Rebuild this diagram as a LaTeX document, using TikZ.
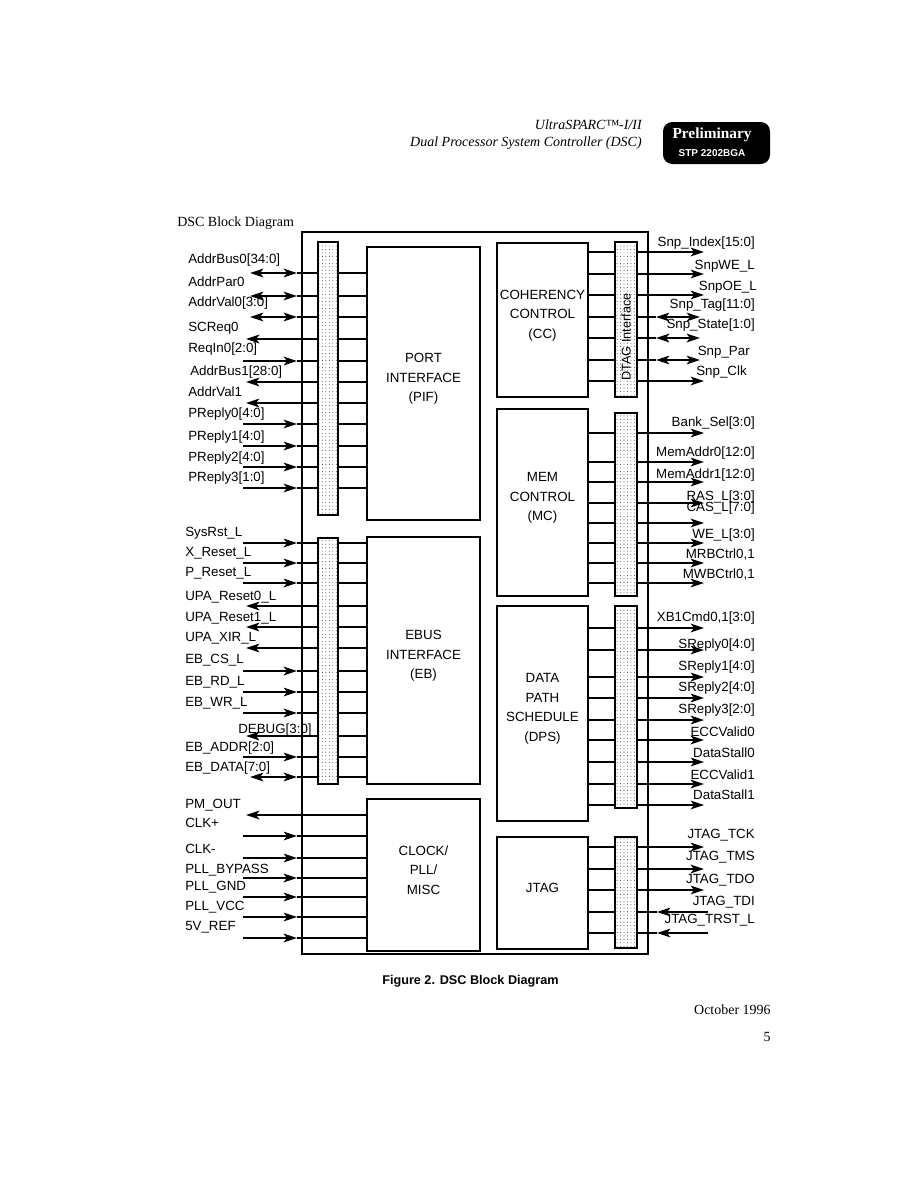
\documentclass[tikz,border=0pt]{standalone}
\usepackage{fontspec}
\setmainfont{Liberation Serif}
\setsansfont{Liberation Sans}
\usetikzlibrary{arrows.meta,patterns,fit}
\pgfdeclarepatternformonly{sdots}{\pgfqpoint{-1pt}{-1pt}}{\pgfqpoint{1pt}{1pt}}{\pgfqpoint{2.6pt}{2.6pt}}{\pgfpathcircle{\pgfqpoint{0pt}{0pt}}{0.35pt}\pgfusepath{fill}}
% left signals: [style]{y}{label y}{label x}{text}{strip}{box}
\newcommand\Lin[7][]{%
  \coordinate (le#2) at (243,#2);
  \draw[sig,#1,->] (le#2) -- (297,#2);
  \draw[sig,#1] (297,#2) -- (#6.west |- le#2);
  \draw[sig,#1] (#6.east |- le#2) -- (#7.west |- le#2);
  \node[lab,anchor=west] at (#4,#3) {#5};}
\newcommand\Lout[7][]{%
  \coordinate (le#2) at (246,#2);
  \draw[sig,#1,->] (#6.west |- le#2) -- (le#2);
  \draw[sig,#1] (#6.east |- le#2) -- (#7.west |- le#2);
  \node[lab,anchor=west] at (#4,#3) {#5};}
\newcommand\Lbi[7][]{%
  \coordinate (le#2) at (250,#2);
  \draw[sig,#1,<->] (le#2) -- (297,#2);
  \draw[sig,#1] (297,#2) -- (#6.west |- le#2);
  \draw[sig,#1] (#6.east |- le#2) -- (#7.west |- le#2);
  \node[lab,anchor=west] at (#4,#3) {#5};}
% clock signals: [style]{y}{label y}{text}
\newcommand\Cin[4][]{%
  \coordinate (ce#2) at (243,#2);
  \draw[sig,#1,->] (ce#2) -- (297,#2);
  \draw[sig,#1] (297,#2) -- (clk.west |- ce#2);
  \node[lab,anchor=west] at (185,#3) {#4};}
\newcommand\Cout[4][]{%
  \coordinate (ce#2) at (246,#2);
  \draw[sig,#1,->] (clk.west |- ce#2) -- (ce#2);
  \node[lab,anchor=west] at (185,#3) {#4};}
% right signals: [style]{y}{label y}{label right x}{text}{strip}{box}
\newcommand\Rout[7][]{%
  \coordinate (re#2) at (704,#2);
  \draw[sig,#1] (#7.east |- re#2) -- (#6.west |- re#2);
  \draw[sig,#1,->] (#6.east |- re#2) -- (re#2);
  \node[lab,anchor=east] at (#4,#3) {#5};}
\newcommand\Rin[7][]{%
  \coordinate (re#2) at (708,#2);
  \draw[sig,#1] (#7.east |- re#2) -- (#6.west |- re#2);
  \draw[sig,#1,->] (re#2) -- (657,#2);
  \draw[sig,#1] (657,#2) -- (#6.east |- re#2);
  \node[lab,anchor=east] at (#4,#3) {#5};}
\newcommand\Rbi[7][]{%
  \coordinate (re#2) at (700,#2);
  \draw[sig,#1] (#7.east |- re#2) -- (#6.west |- re#2);
  \draw[sig,#1,<->] (656,#2) -- (re#2);
  \draw[sig,#1] (#6.east |- re#2) -- (656,#2);
  \node[lab,anchor=east] at (#4,#3) {#5};}
\begin{document}
\begin{tikzpicture}[x=0.75pt,y=-0.75pt,
  box/.style={draw,line width=1.6pt,inner sep=0pt,align=center,font=\sffamily\fontsize{10}{14.6}\selectfont},
  strip/.style={draw,line width=0.9pt,inner sep=0pt,pattern=sdots,pattern color=black!80},
  sig/.style={line width=0.9pt,>={Stealth[length=10pt,width=6.5pt,inset=2.5pt]}},
  thk/.style={line width=1.6pt},
  lab/.style={inner sep=0pt,font=\sffamily\fontsize{10}{12}\selectfont}]
\fill[white] (0,0) rectangle (913,1189);
\useasboundingbox (0,0) rectangle (913,1189);

% header
\node[anchor=east,inner sep=0pt,font=\itshape\fontsize{10.5}{12}\selectfont] (t1) at (642,125) {UltraSPARC™-I/II};
\node[anchor=east,inner sep=0pt,font=\itshape\fontsize{10.5}{12}\selectfont] (t2) at (642,143) {Dual Processor System Controller (DSC)};
\node[fill=black,rounded corners=7pt,inner sep=0pt,fit={(663,122)(770,164)}] (badge) {};
\node[text=white,inner sep=0pt,font=\bfseries\fontsize{11.5}{13}\selectfont] (b1) at (712,135) {Preliminary};
\node[text=white,inner sep=0pt,font=\sffamily\bfseries\fontsize{7.5}{9}\selectfont] (b2) at (712,153) {STP 2202BGA};
\node[anchor=west,inner sep=0pt,font=\fontsize{10.5}{12}\selectfont] (title) at (177,223) {DSC Block Diagram};

% chip and blocks
\node[draw,line width=1.6pt,inner sep=0pt,fit={(302,232)(648,954)}] (chip) {};
\node[strip,fit={(318,242)(338,515)}] (lA) {};
\node[strip,fit={(318,538)(338,784)}] (lB) {};
\node[box,fit={(367,247)(480,520)}] (pif) {PORT\\INTERFACE\\(PIF)};
\node[box,fit={(367,537)(480,784)}] (eb) {EBUS\\INTERFACE\\(EB)};
\node[box,fit={(367,799)(480,951)}] (clk) {CLOCK/\\PLL/\\MISC};
\node[box,fit={(497,243)(588,397)}] (cc) {COHERENCY\\CONTROL\\(CC)};
\node[box,fit={(497,409)(588,596)}] (mc) {MEM\\CONTROL\\(MC)};
\node[box,fit={(497,606)(588,821)}] (dps) {DATA\\PATH\\SCHEDULE\\(DPS)};
\node[box,fit={(497,837)(588,949)}] (jtag) {JTAG};
\node[strip,fit={(615,242)(637,397)}] (rA) {};
\node[strip,fit={(615,413)(637,596)}] (rB) {};
\node[strip,fit={(615,606)(637,808)}] (rC) {};
\node[strip,fit={(615,837)(637,948)}] (rD) {};
\node[rotate=90,inner sep=0pt,font=\sffamily\fontsize{9.5}{11}\selectfont] (dtag) at (626,337) {DTAG Interface};

% left upper group
\Lbi{273}{260}{188}{AddrBus0[34:0]}{lA}{pif}
\Lbi{296}{282}{188}{AddrPar0}{lA}{pif}
\Lbi{317}{303}{188}{AddrVal0[3:0]}{lA}{pif}
\Lout[thk]{339}{328}{188}{SCReq0}{lA}{pif}
\Lin{361}{349}{188}{ReqIn0[2:0]}{lA}{pif}
\Lout{382}{372}{190}{AddrBus1[28:0]}{lA}{pif}
\Lout{403}{392}{188}{AddrVal1}{lA}{pif}
\Lin{424}{414}{188}{PReply0[4:0]}{lA}{pif}
\Lin{446}{437}{188}{PReply1[4:0]}{lA}{pif}
\Lin{467}{458}{188}{PReply2[4:0]}{lA}{pif}
\Lin{488}{478}{188}{PReply3[1:0]}{lA}{pif}

% left lower group
\Lin{543}{533}{185}{SysRst\_L}{lB}{eb}
\Lin{563}{553}{185}{X\_Reset\_L}{lB}{eb}
\Lin{583}{573}{185}{P\_Reset\_L}{lB}{eb}
\Lout[thk]{606}{597}{185}{UPA\_Reset0\_L}{lB}{eb}
\Lout{627}{618}{185}{UPA\_Reset1\_L}{lB}{eb}
\Lout{648}{638}{185}{UPA\_XIR\_L}{lB}{eb}
\Lin[thk]{671}{660}{185}{EB\_CS\_L}{lB}{eb}
\Lin{692}{682}{185}{EB\_RD\_L}{lB}{eb}
\Lin{713}{703}{185}{EB\_WR\_L}{lB}{eb}
\Lout{736}{730}{238}{DEBUG[3:0]}{lB}{eb}
\Lin{757}{748}{185}{EB\_ADDR[2:0]}{lB}{eb}
\Lbi{777}{768}{185}{EB\_DATA[7:0]}{lB}{eb}

% clock group
\Cout[thk]{815}{805}{PM\_OUT}
\Cin{836}{823}{CLK+}
\Cin{858}{849}{CLK-}
\Cin[thk]{878}{870}{PLL\_BYPASS}
\Cin{897}{887}{PLL\_GND}
\Cin{917}{907}{PLL\_VCC}
\Cin[thk]{938}{927}{5V\_REF}

% right: coherency
\Rout{252}{243}{755}{Snp\_Index[15:0]}{rA}{cc}
\Rout{274}{266}{755}{SnpWE\_L}{rA}{cc}
\Rout{295}{287}{757}{SnpOE\_L}{rA}{cc}
\Rbi{317}{305}{755}{Snp\_Tag[11:0]}{rA}{cc}
\Rbi[thk]{338}{325}{755}{Snp\_State[1:0]}{rA}{cc}
\Rbi{360}{352}{750}{Snp\_Par}{rA}{cc}
\Rout{381}{372}{747}{Snp\_Clk}{rA}{cc}

% right: memory
\Rout{433}{423}{755}{Bank\_Sel[3:0]}{rB}{mc}
\Rout{462}{453}{755}{MemAddr0[12:0]}{rB}{mc}
\Rout{482}{475}{755}{MemAddr1[12:0]}{rB}{mc}
\Rout{503}{497}{755}{RAS\_L[3:0]}{rB}{mc}
\Rout{523}{508}{755}{CAS\_L[7:0]}{rB}{mc}
\Rout{543}{535}{755}{WE\_L[3:0]}{rB}{mc}
\Rout{563}{555}{755}{MRBCtrl0,1}{rB}{mc}
\Rout{583}{575}{755}{MWBCtrl0,1}{rB}{mc}

% right: data path
\Rout{628}{618}{755}{XB1Cmd0,1[3:0]}{rC}{dps}
\Rout{650}{645}{755}{SReply0[4:0]}{rC}{dps}
\Rout{677}{667}{755}{SReply1[4:0]}{rC}{dps}
\Rout[thk]{698}{688}{755}{SReply2[4:0]}{rC}{dps}
\Rout{720}{710}{755}{SReply3[2:0]}{rC}{dps}
\Rout[thk]{740}{732}{755}{ECCValid0}{rC}{dps}
\Rout{762}{753}{755}{DataStall0}{rC}{dps}
\Rout[thk]{784}{775}{755}{ECCValid1}{rC}{dps}
\Rout{805}{795}{755}{DataStall1}{rC}{dps}

% right: jtag
\Rout{847}{835}{755}{JTAG\_TCK}{rD}{jtag}
\Rout[thk]{869}{857}{755}{JTAG\_TMS}{rD}{jtag}
\Rout{890}{880}{755}{JTAG\_TDO}{rD}{jtag}
\Rin{912}{902}{755}{JTAG\_TDI}{rD}{jtag}
\Rin{933}{920}{755}{JTAG\_TRST\_L}{rD}{jtag}

% caption and footer
\node[anchor=west,inner sep=0pt,font=\sffamily\bfseries\fontsize{9.5}{11}\selectfont] (cap) at (382,981) {Figure 2. DSC Block Diagram};
\node[anchor=east,inner sep=0pt,font=\fontsize{10.5}{12}\selectfont] (date) at (771,1010) {October 1996};
\node[anchor=east,inner sep=0pt,font=\fontsize{10.5}{12}\selectfont] (page) at (771,1037) {5};
\end{tikzpicture}
\end{document}
